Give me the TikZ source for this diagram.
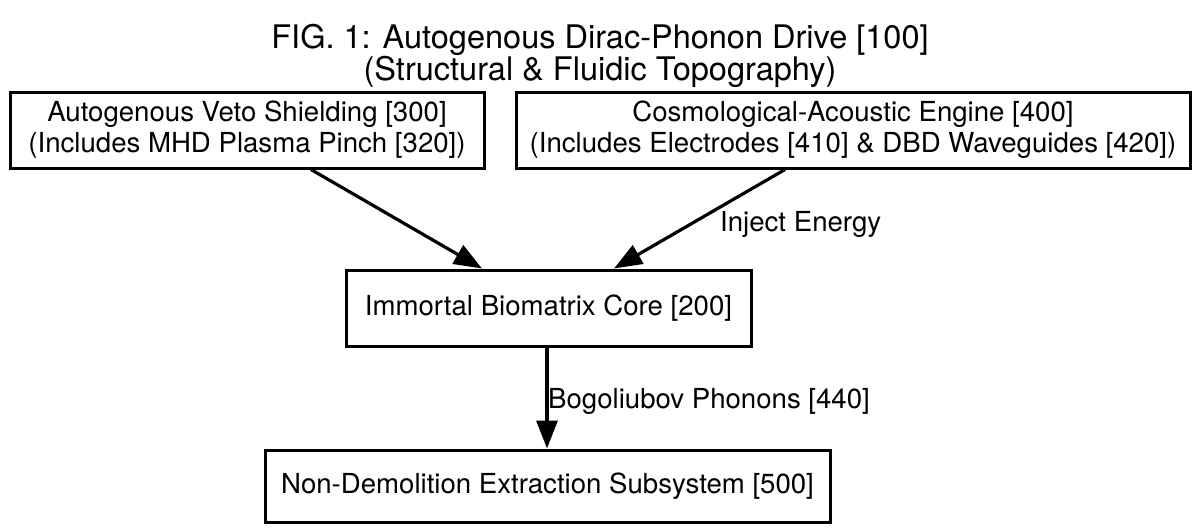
\documentclass[tikz,border=0pt]{standalone}
\usepackage{fontspec}
\setmainfont{TeX Gyre Heros}
\usetikzlibrary{arrows.meta}
\begin{document}
\begin{tikzpicture}[x=1pt,y=-1pt,
  box/.style={draw,line width=3pt,align=center,inner sep=0pt,font=\fontsize{27.6}{31}\selectfont},
  lab/.style={font=\fontsize{27.6}{31}\selectfont,inner sep=0pt},
  conn/.style={line width=3.2pt,-{Triangle[length=28pt,width=21pt]}}]
\useasboundingbox (0,0) rectangle (1200,531);
\node[align=center,font=\fontsize{32.5}{28}\selectfont,inner sep=0pt] (title) at (600,56)
  {FIG. 1: Autogenous Dirac-Phonon Drive [100]\\(Structural \& Fluidic Topography)};
\node[box,minimum width=474pt,minimum height=76pt] (A) at (247,130)
  {Autogenous Veto Shielding [300]\\(Includes MHD Plasma Pinch [320])};
\node[box,minimum width=674pt,minimum height=76pt] (B) at (853,130)
  {Cosmological-Acoustic Engine [400]\\(Includes Electrodes [410] \& DBD Waveguides [420])};
\node[box,minimum width=405pt,minimum height=76pt] (C) at (548.5,308)
  {Immortal Biomatrix Core [200]};
\node[box,minimum width=565pt,minimum height=72pt] (D) at (547.5,486)
  {Non-Demolition Extraction Subsystem [500]};
\draw[conn] ([xshift=64pt]A.south) -- ([xshift=-66.5pt]C.north);
\draw[conn] ([xshift=-68pt]B.south) -- ([xshift=65.5pt]C.north);
\draw[conn] ([xshift=-1.5pt]C.south) -- ([xshift=-0.5pt]D.north);
\node[lab,anchor=west] (l1) at (720,224) {Inject Energy};
\node[lab,anchor=west] (l2) at (548,401) {Bogoliubov Phonons [440]};
\end{tikzpicture}
\end{document}
